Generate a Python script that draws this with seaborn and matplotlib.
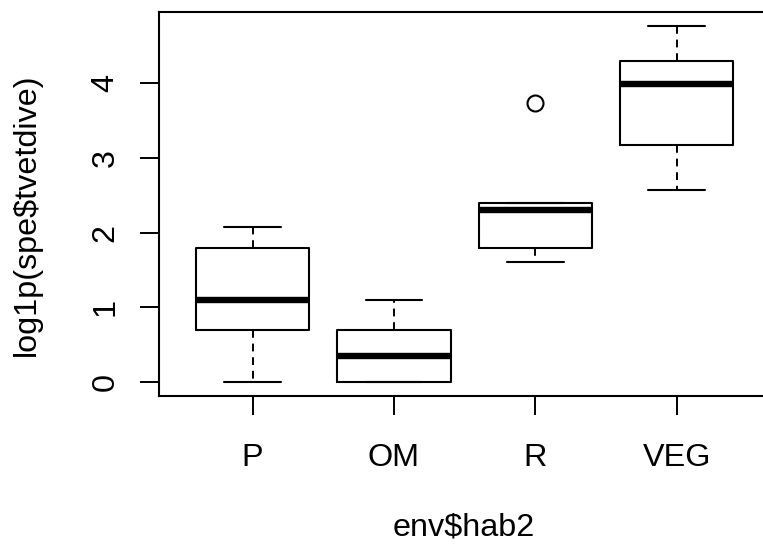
import matplotlib
matplotlib.use('Agg')
import matplotlib.pyplot as plt
import seaborn as sns

# box statistics (log1p scale)
groups = ["P", "OM", "R", "VEG"]
whisker_low = [0.0, 0.0, 1.609, 2.565]
q1 = [0.693, 0.0, 1.792, 3.178]
median = [1.099, 0.347, 2.303, 3.989]
q3 = [1.792, 0.693, 2.398, 4.304]
whisker_high = [2.079, 1.099, 2.398, 4.771]
outliers = [[], [], [3.738], []]
y_ticks = [0, 1, 2, 3, 4]

sns.set_style("white")
plt.rcParams['font.family'] = ['Liberation Sans', 'DejaVu Sans']
for key in ['text.color', 'axes.labelcolor', 'xtick.color', 'ytick.color']:
    plt.rcParams[key] = 'black'

W, H = 763, 546
fig = plt.figure(figsize=(W / 100, H / 100), dpi=100)
# plot region runs past the right edge, as in the reference
ax = fig.add_axes([159.3 / W, 1 - 396 / H, (770 - 159.3) / W, (396 - 12.3) / H])

stats = []
for i, g in enumerate(groups):
    stats.append(dict(label=g, whislo=whisker_low[i], q1=q1[i], med=median[i],
                      q3=q3[i], whishi=whisker_high[i], fliers=outliers[i]))

positions = list(range(1, len(groups) + 1))
ax.bxp(stats, positions=positions, widths=0.8, capwidths=0.4, showfliers=True,
       boxprops=dict(color='black', linewidth=1.5),
       medianprops=dict(color='black', linewidth=4.6, solid_capstyle='butt'),
       whiskerprops=dict(color='black', linewidth=1.4, linestyle=(0, (4, 3))),
       capprops=dict(color='black', linewidth=1.5),
       flierprops=dict(marker='o', markerfacecolor='none', markeredgecolor='black',
                       markersize=11.5, markeredgewidth=1.5))

ax.set_xlim(0.34, 4.66)
ax.set_ylim(-0.19, 4.95)
ax.set_xticks(positions)
ax.set_xticklabels(groups)
ax.set_yticks(y_ticks)
ax.set_yticklabels([str(t) for t in y_ticks], rotation=90, va='center')

for s in ax.spines.values():
    s.set_visible(True)
    s.set_color('black')
    s.set_linewidth(1.5)

ax.tick_params(axis='both', direction='out', length=14, width=1.4, color='black',
               labelsize=23.3, bottom=True, left=True)
ax.tick_params(axis='x', pad=19.5)
ax.tick_params(axis='y', pad=14)

ax.set_xlabel("env$hab2", fontsize=23.3)
ax.set_ylabel("log1p(spe$tvetdive)", fontsize=23.3)
ax.xaxis.set_label_coords(464 / W, 1 - 513 / H, transform=fig.transFigure)
ax.yaxis.set_label_coords(42 / W, 1 - 215 / H, transform=fig.transFigure)

fig.savefig("out.png", dpi=100)
